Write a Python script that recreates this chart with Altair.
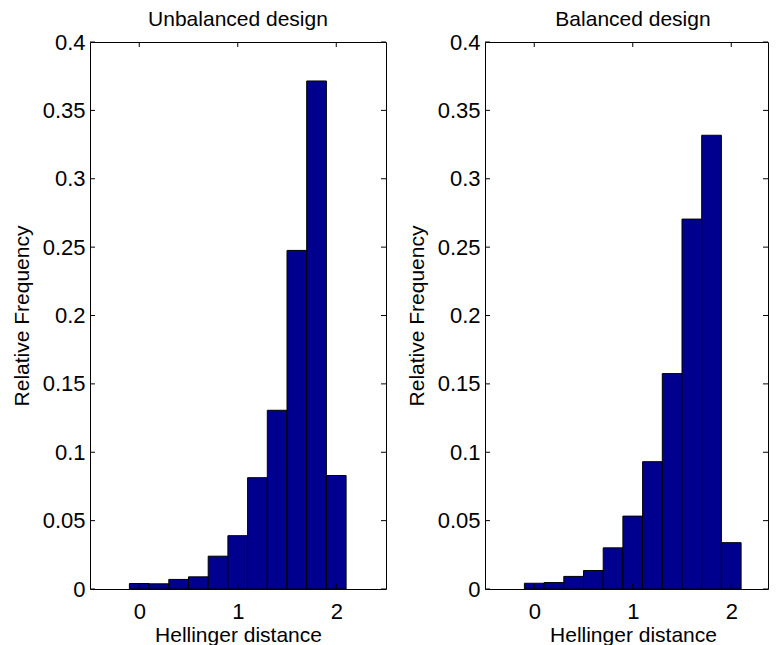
import altair as alt
import pandas as pd

bin_centers = [0.0, 0.2, 0.4, 0.6, 0.8, 1.0, 1.2, 1.4, 1.6, 1.8, 2.0]
bin_width = 0.2
unbalanced = [0.004, 0.0038, 0.007, 0.0089, 0.024, 0.039, 0.0814, 0.1307, 0.2476, 0.3715, 0.083]
balanced = [0.0042, 0.0047, 0.0092, 0.0135, 0.0301, 0.0533, 0.0931, 0.1575, 0.2705, 0.3318, 0.0339]
x_ticks = [0, 1, 2]
y_ticks = [0, 0.05, 0.1, 0.15, 0.2, 0.25, 0.3, 0.35, 0.4]
panel_titles = ["Unbalanced design", "Balanced design"]

H = 547
FONT = "Liberation Sans"
FS = 21
LFS = 22
TICK = 5
BAR = "#00008F"
PX_PER_UNIT = 98.5  # horizontal scale of each panel (pixels per unit)


def panel(values, title, W, center_px):
    df = pd.DataFrame({"center": bin_centers, "freq": values})
    df["x0"] = df["center"] - bin_width / 2
    df["x1"] = df["center"] + bin_width / 2
    df["base"] = 0.0
    x_min = -0.5
    x_max = x_min + W / PX_PER_UNIT  # the right panel is cropped like the reference
    xs = alt.Scale(domain=[x_min, x_max], nice=False, zero=False)
    ys = alt.Scale(domain=[0, 0.4], nice=False)
    xaxis = alt.Axis(values=x_ticks, format="d", title="Hellinger distance",
                     labelPadding=12, titlePadding=2, titleX=center_px)
    yaxis = alt.Axis(values=y_ticks, format="~g", title="Relative Frequency",
                     labelPadding=5, titlePadding=10)

    bars = alt.Chart(df).mark_rect(fill=BAR, stroke="black", strokeWidth=1).encode(
        x=alt.X("x0:Q", scale=xs, axis=xaxis),
        x2="x1:Q",
        y=alt.Y("freq:Q", scale=ys, axis=yaxis),
        y2="base:Q",
    )

    xt = pd.DataFrame({"x0": x_ticks})
    yt = pd.DataFrame({"freq": y_ticks})
    top_t = alt.Chart(xt).mark_rule(color="black", strokeWidth=1).encode(
        x=alt.X("x0:Q", scale=xs, axis=xaxis), y=alt.value(0), y2=alt.value(TICK))
    bot_t = alt.Chart(xt).mark_rule(color="black", strokeWidth=1).encode(
        x=alt.X("x0:Q", scale=xs, axis=xaxis), y=alt.value(H), y2=alt.value(H - TICK))
    left_t = alt.Chart(yt).mark_rule(color="black", strokeWidth=1).encode(
        y=alt.Y("freq:Q", scale=ys, axis=yaxis), x=alt.value(0), x2=alt.value(TICK))
    right_t = alt.Chart(yt).mark_rule(color="black", strokeWidth=1).encode(
        y=alt.Y("freq:Q", scale=ys, axis=yaxis), x=alt.value(W - TICK), x2=alt.value(W))

    ttl = alt.Chart(pd.DataFrame({"t": [title]})).mark_text(
        font=FONT, fontSize=FS, color="black", align="center", baseline="alphabetic"
    ).encode(text="t:N", x=alt.value(center_px), y=alt.value(-16))

    return alt.layer(bars, top_t, bot_t, left_t, right_t, ttl).properties(width=W, height=H)


chart = alt.hconcat(
    panel(unbalanced, panel_titles[0], 296, 148),
    panel(balanced, panel_titles[1], 283, 148),
    spacing=18,
).properties(
    padding={"left": 2, "top": 0, "right": 0, "bottom": 0}
).configure_view(
    stroke="black", strokeWidth=1
).configure_axis(
    labelFont=FONT, labelFontSize=LFS, labelColor="black",
    titleFont=FONT, titleFontSize=FS, titleFontWeight="normal", titleColor="black",
    ticks=False, tickSize=0, domain=False, grid=False,
)

chart.save("out.html", embed_options={"renderer": "svg", "actions": False})
